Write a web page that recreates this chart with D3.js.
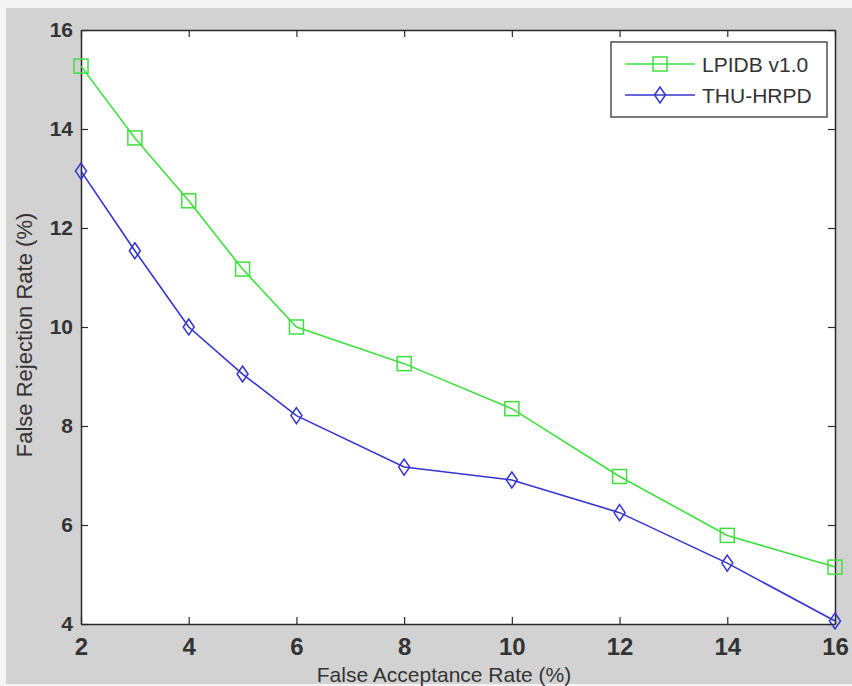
<!DOCTYPE html>
<html>
<head>
<meta charset="utf-8">
<script src="https://cdn.jsdelivr.net/npm/d3@7"></script>
<style>
  html, body { margin: 0; padding: 0; background: #fff; }
  svg { display: block; }
  text { font-family: Arial, "Liberation Sans", sans-serif; }
</style>
</head>
<body>
<svg id="chart" width="852" height="686"></svg>
<script>
const far = [2, 3, 4, 5, 6, 8, 10, 12, 14, 16];
const lpidb = [15.27, 13.82, 12.55, 11.17, 10.0, 9.26, 8.35, 6.98, 5.79, 5.15];
const thu = [13.15, 11.54, 10.0, 9.05, 8.21, 7.17, 6.91, 6.25, 5.23, 4.06];
const xTicks = [2, 4, 6, 8, 10, 12, 14, 16];
const yTicks = [4, 6, 8, 10, 12, 14, 16];

const series = [
  { name: 'LPIDB v1.0', values: lpidb, color: '#3ee03e', marker: 'square' },
  { name: 'THU-HRPD', values: thu, color: '#3434d0', marker: 'diamond' },
];

const width = 852, height = 686;
const m = { left: 81, top: 30, right: 835, bottom: 624 };
const svg = d3.select('#chart');

// MATLAB-ish grey figure background, slightly lighter border strip
svg.append('rect').attr('width', width).attr('height', height).attr('fill', '#f4f4f4');
svg.append('rect').attr('x', 6).attr('y', 8).attr('width', width - 6).attr('height', 676).attr('fill', '#d2d2d2');

const x = d3.scaleLinear().domain([2, 16]).range([m.left, m.right]);
const y = d3.scaleLinear().domain([4, 16]).range([m.bottom, m.top]);

svg.append('rect')
  .attr('x', m.left).attr('y', m.top)
  .attr('width', m.right - m.left).attr('height', m.bottom - m.top)
  .attr('fill', '#fff');

const tickLen = 7;
const axisColor = '#2a2a2a';

// axes with inward ticks (bottom/left labelled, top/right mirrored)
const gx = svg.append('g').attr('transform', `translate(0,${m.bottom})`)
  .call(d3.axisBottom(x).tickValues(xTicks).tickSizeInner(-tickLen).tickSizeOuter(0));
const gxTop = svg.append('g').attr('transform', `translate(0,${m.top})`)
  .call(d3.axisTop(x).tickValues(xTicks).tickSizeInner(-tickLen).tickSizeOuter(0).tickFormat(''));
const gy = svg.append('g').attr('transform', `translate(${m.left},0)`)
  .call(d3.axisLeft(y).tickValues(yTicks).tickSizeInner(-tickLen).tickSizeOuter(0).tickPadding(8));
const gyRight = svg.append('g').attr('transform', `translate(${m.right},0)`)
  .call(d3.axisRight(y).tickValues(yTicks).tickSizeInner(-tickLen).tickSizeOuter(0).tickFormat(''));

[gx, gxTop, gy, gyRight].forEach((g) => {
  g.select('.domain').attr('stroke', axisColor).attr('stroke-width', 1.5);
  g.selectAll('.tick line').attr('stroke', axisColor).attr('stroke-width', 1.2);
  g.selectAll('text').attr('fill', '#333').attr('font-weight', 'bold');
});
// x tick labels are drawn noticeably larger than the y ones in the source
gx.selectAll('text').attr('font-size', 24).attr('y', 31).attr('dy', 0);
gy.selectAll('text').attr('font-size', 21);

svg.append('text')
  .attr('x', 444).attr('y', 682)
  .attr('text-anchor', 'middle').attr('font-size', 21).attr('fill', '#333')
  .text('False Acceptance Rate (%)');

svg.append('text')
  .attr('transform', 'translate(32,335) rotate(-90)')
  .attr('text-anchor', 'middle').attr('font-size', 22).attr('fill', '#333')
  .text('False Rejection Rate (%)');

const line = d3.line().x((d) => x(d[0])).y((d) => y(d[1]));

const drawMarker = (g, kind, color) => {
  if (kind === 'square') {
    g.append('rect').attr('x', -7).attr('y', -7).attr('width', 14).attr('height', 14)
      .attr('fill', 'none').attr('stroke', color).attr('stroke-width', 1.5);
  } else {
    g.append('path').attr('d', 'M0,-8L5.5,0L0,8L-5.5,0Z')
      .attr('fill', 'none').attr('stroke', color).attr('stroke-width', 1.5);
  }
};

const plot = svg.append('g');
series.forEach((s) => {
  const pts = far.map((f, i) => [f, s.values[i]]);
  plot.append('path').datum(pts)
    .attr('d', line).attr('fill', 'none')
    .attr('stroke', s.color).attr('stroke-width', 1.6);
  pts.forEach((p) => {
    const g = plot.append('g').attr('transform', `translate(${x(p[0])},${y(p[1])})`);
    drawMarker(g, s.marker, s.color);
  });
});

// legend
const lg = svg.append('g').attr('transform', 'translate(611,42)');
lg.append('rect').attr('width', 216).attr('height', 75)
  .attr('fill', '#fff').attr('stroke', '#333').attr('stroke-width', 1.3);
series.forEach((s, i) => {
  const cy = 22 + i * 31;
  lg.append('line').attr('x1', 14).attr('x2', 84).attr('y1', cy).attr('y2', cy)
    .attr('stroke', s.color).attr('stroke-width', 1.6);
  const g = lg.append('g').attr('transform', `translate(49,${cy})`);
  drawMarker(g, s.marker, s.color);
  lg.append('text').attr('x', 91).attr('y', cy).attr('dy', '0.36em')
    .attr('font-size', 21).attr('fill', '#333').text(s.name);
});
</script>
</body>
</html>
